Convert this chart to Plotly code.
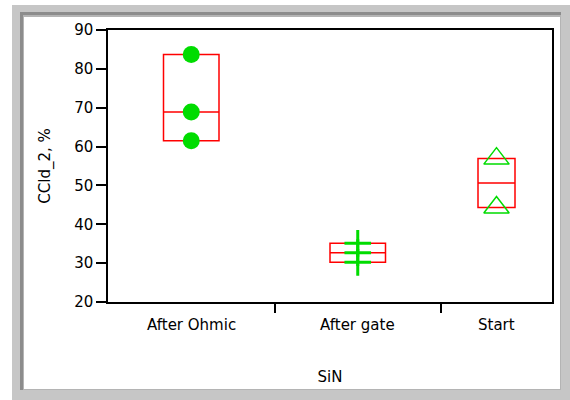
import plotly.graph_objects as go
import numpy as np

categories = ["After Ohmic", "After gate", "Start"]
after_ohmic = [83.7, 68.9, 61.5]
after_gate = [35.1, 32.7, 30.2]
start = [56.9, 44.3]
y_ticks = [20, 30, 40, 50, 60, 70, 80, 90]

groups = [after_ohmic, after_gate, start]
symbols = ["circle", "cross-thin", "triangle-up-open"]
sizes = [17, 19, 22]

# group widths proportional to number of points
counts = [len(g) for g in groups]
edges = np.concatenate([[0], np.cumsum(counts)])
centers = [(edges[i] + edges[i + 1]) / 2 for i in range(len(groups))]
seps = list(edges[1:-1])

GREEN = "#00dc00"
RED = "#ff0000"
FONT = "DejaVu Sans"

fig = go.Figure()

# grand mean reference line
grand_mean = float(np.mean(np.concatenate(groups)))
fig.add_hline(y=grand_mean, line=dict(color="#a8a8a8", width=1.2), layer="below")

for i, g in enumerate(groups):
    lo, med, hi = float(np.min(g)), float(np.median(g)), float(np.max(g))
    fig.add_trace(go.Box(
        x=[centers[i]], q1=[lo], median=[med], q3=[hi],
        lowerfence=[lo], upperfence=[hi],
        width=counts[i] / 3.0,
        line=dict(color=RED, width=1.5),
        fillcolor="rgba(0,0,0,0)",
        whiskerwidth=0,
        boxpoints=False,
        showlegend=False,
        hoverinfo="skip",
    ))

for i, g in enumerate(groups):
    sym = symbols[i]
    if sym == "circle":
        marker = dict(symbol=sym, size=sizes[i], color=GREEN, line=dict(width=0))
    elif sym == "cross-thin":
        marker = dict(symbol=sym, size=sizes[i], color=GREEN, line=dict(color=GREEN, width=3))
    else:
        marker = dict(symbol=sym, size=sizes[i], color=GREEN, line=dict(color=GREEN, width=1.5))
    fig.add_trace(go.Scatter(
        x=[centers[i]] * len(g), y=g, mode="markers", marker=marker,
        showlegend=False, cliponaxis=False,
    ))

# category labels
for c, name in zip(centers, categories):
    fig.add_annotation(x=c, y=0, xref="x", yref="paper", text=name, showarrow=False,
                       yanchor="top", yshift=-12, font=dict(family=FONT, size=15, color="black"))

# window frame (bevelled border)
W, H = 570, 400
L, R, T, B = 108, 18, 30, 98
pw, ph = W - L - R, H - T - B


def px(xp):
    return (xp - L) / pw


def py(yp):
    return (H - B - yp) / ph


frame = [
    (12, 5, 570, 400, "#c6c6c6"),
    (20, 12, 561, 390, "#8c8c8c"),
    (23, 15, 561, 390, "#b4b4b4"),
    (24, 17, 560, 389, "#ffffff"),
]
for x0, y0, x1, y1, col in frame:
    fig.add_shape(type="rect", xref="paper", yref="paper",
                  x0=px(x0), x1=px(x1), y0=py(y1), y1=py(y0),
                  fillcolor=col, line=dict(width=0), layer="below")

fig.update_layout(
    width=W, height=H,
    margin=dict(l=L, r=R, t=T, b=B),
    paper_bgcolor="white",
    plot_bgcolor="rgba(0,0,0,0)",
    font=dict(family=FONT, size=15, color="black"),
    xaxis=dict(
        range=[0, float(edges[-1])],
        showgrid=False, zeroline=False,
        showline=True, linecolor="black", linewidth=1.5, mirror=True,
        tickvals=[], ticks="",
        minor=dict(tickvals=seps, ticks="outside", ticklen=9, tickwidth=1.5, tickcolor="black", showgrid=False),
        title=dict(text="SiN", font=dict(family=FONT, size=15), standoff=66),
    ),
    yaxis=dict(
        range=[20, 90], tickvals=y_ticks,
        showgrid=False, zeroline=False,
        showline=True, linecolor="black", linewidth=1.5, mirror=True,
        ticks="outside", ticklen=10, tickwidth=1.5, tickcolor="black",
        tickfont=dict(family=FONT, size=15),
        title=dict(text="CCld_2, %", font=dict(family=FONT, size=15), standoff=20),
    ),
)

fig.write_html(
    "out.html",
    config={"displayModeBar": False},
    post_script="document.body.style.margin='0';document.body.style.overflow='hidden';",
)
